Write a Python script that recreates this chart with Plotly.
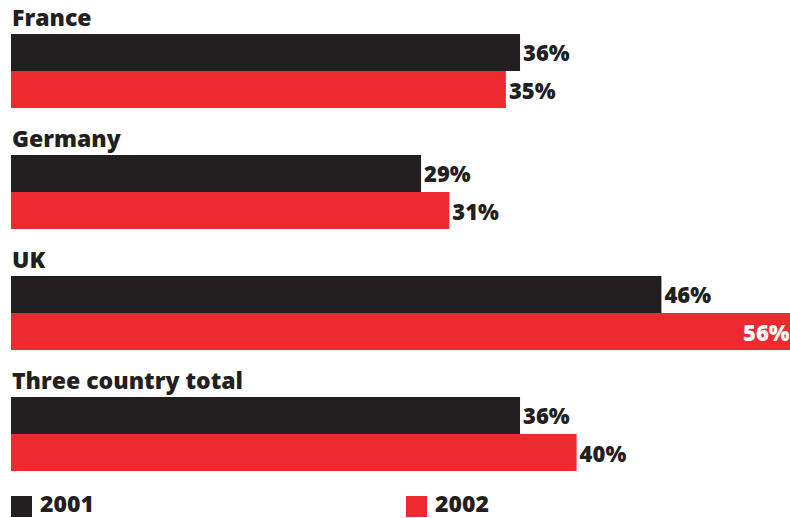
import plotly.graph_objects as go

# Share values by country, 2001 vs 2002 (percent)
countries = ["France", "Germany", "UK", "Three country total"]
years = ["2001", "2002"]
values_2001 = [36, 29, 46, 36]
values_2002 = [35, 31, 56, 40]

DARK = "#231f20"
RED = "#ec2a2f"
FONT = "Open Sans"
WEIGHT = 800

W, H = 790, 518
LEFT = 11
X_MAX = 779 / 14.14  # axis stops short of the largest bar, which runs off the edge


def label_font(size, color=DARK):
    return dict(family=FONT, size=size, color=color, weight=WEIGHT)


fig = go.Figure()

fig.add_trace(go.Bar(
    y=countries, x=values_2001, orientation="h", name=years[0],
    marker=dict(color=DARK, line=dict(width=0)),
    texttemplate="%{x}%", textposition="outside",
    outsidetextfont=label_font(22),
    constraintext="none", cliponaxis=True,
))

# Bars running past the axis end get their label inside, in white
overflow_2002 = [v > X_MAX for v in values_2002]
fig.add_trace(go.Bar(
    y=countries, x=values_2002, orientation="h", name=years[1],
    marker=dict(color=RED, line=dict(width=0)),
    texttemplate="%{x}%",
    textposition=["none" if o else "outside" for o in overflow_2002],
    outsidetextfont=label_font(22),
    constraintext="none", cliponaxis=True,
))

annotations = []
for c, v, o in zip(countries, values_2002, overflow_2002):
    if o:
        annotations.append(dict(
            x=X_MAX, xref="x", xanchor="right", xshift=2,
            y=c, yref="y", yanchor="middle", yshift=-19,
            text=f"{v}%", showarrow=False,
            font=label_font(22, "white"),
        ))

# Country headings above each pair of bars
for c in countries:
    annotations.append(dict(
        x=0, xref="paper", xanchor="left", xshift=-1,
        y=c, yref="y", yanchor="middle", yshift=54,
        text=c, showarrow=False,
        font=label_font(23),
    ))


# Legend drawn with square swatches along the bottom
def px_x(p):
    return (p - LEFT) / (W - LEFT)


def px_y(p):
    return 1 - p / H


shapes = []
legend_items = [(years[0], DARK, 11), (years[1], RED, 406)]
for label, color, x0 in legend_items:
    shapes.append(dict(
        type="rect", xref="paper", yref="paper",
        x0=px_x(x0), x1=px_x(x0 + 21), y0=px_y(517), y1=px_y(496),
        fillcolor=color, line=dict(width=0), layer="above",
    ))
    annotations.append(dict(
        x=px_x(x0 + 27), xref="paper", xanchor="left",
        y=px_y(503), yref="paper", yanchor="middle",
        height=22, valign="middle",
        text=label, showarrow=False,
        font=label_font(23),
    ))

fig.update_layout(
    width=W, height=H,
    margin=dict(l=LEFT, r=0, t=0, b=0),
    paper_bgcolor="white", plot_bgcolor="white",
    barmode="group", bargap=0.388, bargroupgap=0,
    showlegend=False,
    xaxis=dict(range=[0, X_MAX], visible=False, fixedrange=True),
    yaxis=dict(
        type="category", categoryorder="array", categoryarray=countries,
        range=[(H - 71) / 121, -71 / 121],
        showticklabels=False, showgrid=False, zeroline=False, ticks="",
        fixedrange=True,
    ),
    annotations=annotations,
    shapes=shapes,
)

fig.write_html("out.html")
